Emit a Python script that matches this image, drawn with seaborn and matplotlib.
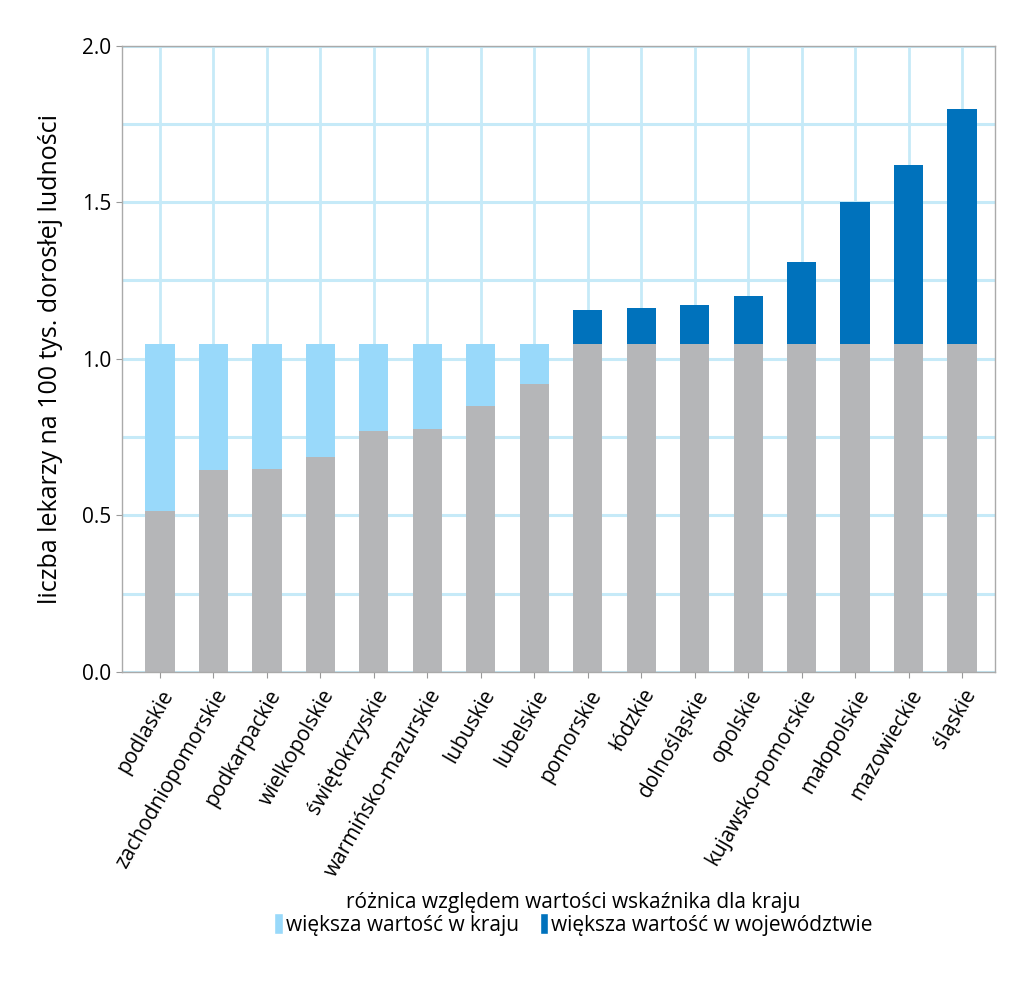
import numpy as np
import pandas as pd
import matplotlib.pyplot as plt
from matplotlib.patches import Patch
from matplotlib.ticker import MultipleLocator
import seaborn as sns

regions = ["podlaskie", "zachodniopomorskie", "podkarpackie", "wielkopolskie",
           "świętokrzyskie", "warmińsko-mazurskie", "lubuskie", "lubelskie",
           "pomorskie", "łódzkie", "dolnośląskie", "opolskie",
           "kujawsko-pomorskie", "małopolskie", "mazowieckie", "śląskie"]
values = [0.514, 0.645, 0.649, 0.687, 0.770, 0.776, 0.850, 0.920,
          1.157, 1.163, 1.173, 1.201, 1.310, 1.502, 1.620, 1.796]
national = 1.046

GRAY = "#b5b6b8"
LIGHT = "#99d9fa"
DARK = "#0072bc"
GRID = "#c6eaf8"

df = pd.DataFrame({"region": regions, "value": values})
df["top"] = np.maximum(df["value"], national)
df["base"] = np.minimum(df["value"], national)
top_colors = [LIGHT if v < national else DARK for v in df["value"]]

sns.set_style("white")
plt.rcParams["font.family"] = ["Open Sans", "DejaVu Sans"]
plt.rcParams["text.color"] = "black"
plt.rcParams["axes.labelcolor"] = "black"
plt.rcParams["xtick.color"] = "black"
plt.rcParams["ytick.color"] = "black"

fig, ax = plt.subplots(figsize=(10.24, 9.91), dpi=100)
fig.subplots_adjust(left=0.119, right=0.972, top=0.954, bottom=0.322)

sns.barplot(data=df, x="region", y="top", hue="region", palette=top_colors,
            legend=False, width=0.55, ax=ax, saturation=1, linewidth=0)
sns.barplot(data=df, x="region", y="base", color=GRAY, width=0.55, ax=ax,
            saturation=1, linewidth=0)

ax.set_ylim(0, 2.0)
ax.set_xlim(-0.71, len(regions) - 0.38)
ax.yaxis.set_major_locator(MultipleLocator(0.5))
ax.yaxis.set_minor_locator(MultipleLocator(0.25))
ax.set_yticks(np.arange(0, 2.01, 0.5))
ax.set_yticklabels([f"{t:.1f}" for t in np.arange(0, 2.01, 0.5)], fontsize=15)
ax.set_axisbelow(True)
ax.grid(True, which="both", axis="y", color=GRID, linewidth=2.2)
ax.grid(True, which="major", axis="x", color=GRID, linewidth=2)

ax.set_xlabel("")
ax.set_ylabel("liczba lekarzy na 100 tys. dorosłej ludności", fontsize=18, labelpad=14)
ax.set_xticks(range(len(regions)))
ax.set_xticklabels(regions, rotation=60, ha="right", rotation_mode="anchor", fontsize=15)
ax.tick_params(axis="both", which="major", length=4, color="#999999", direction="out",
               bottom=True, left=True)
ax.tick_params(axis="x", which="major", pad=6)
ax.tick_params(axis="y", which="minor", length=0)
for s in ax.spines.values():
    s.set_color("#aaaaaa")
    s.set_linewidth(1)

handles = [Patch(facecolor=LIGHT, label="większa wartość w kraju"),
           Patch(facecolor=DARK, label="większa wartość w województwie")]
fig.legend(handles=handles, loc="center", bbox_to_anchor=(0.56, 0.078), ncol=2,
           frameon=False, fontsize=15, title="różnica względem wartości wskaźnika dla kraju",
           title_fontsize=15, handlelength=0.4, handleheight=1.2, handletextpad=0.15,
           columnspacing=1.0, borderpad=0, labelspacing=0)

fig.savefig("out.png", dpi=100)
